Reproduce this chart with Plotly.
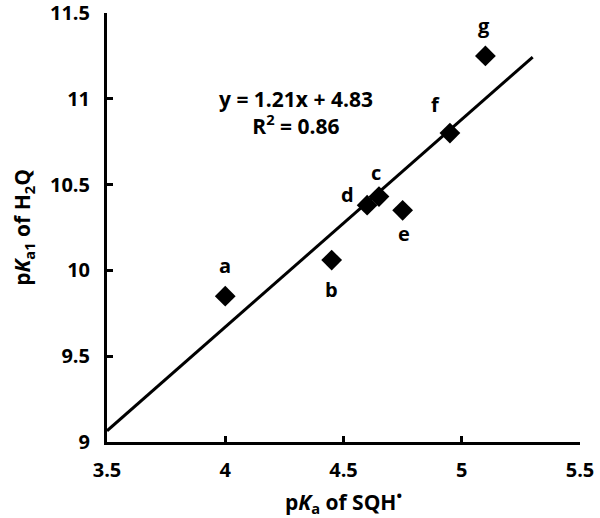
import plotly.graph_objects as go

# pKa of SQH* vs pKa1 of H2Q
labels = ['a', 'b', 'c', 'd', 'e', 'f', 'g']
pka_sqh = [4.0, 4.45, 4.65, 4.6, 4.75, 4.95, 5.1]
pka1_h2q = [9.85, 10.06, 10.43, 10.38, 10.35, 10.8, 11.25]
# label offsets from each point, in pixels
label_dx = [0, 0, -3, -20, 1, -14, -1]
label_dy = [31, -29, 24, 11, -23, 29, 30]

# linear fit line y = 1.21x + 4.83
slope = 1.21
intercept = 4.83
fit_x = [3.5, 5.3]
fit_y = [slope * x + intercept for x in fit_x]

FONT = 'Open Sans'

fig = go.Figure()
fig.add_trace(go.Scatter(
    x=fit_x, y=fit_y, mode='lines',
    line=dict(color='black', width=3),
    hoverinfo='skip',
))
fig.add_trace(go.Scatter(
    x=pka_sqh, y=pka1_h2q,
    mode='markers',
    marker=dict(symbol='diamond', size=16, color='black'),
))

for lab, x, y, dx, dy in zip(labels, pka_sqh, pka1_h2q, label_dx, label_dy):
    fig.add_annotation(
        x=x, y=y, xref='x', yref='y', text='<b>%s</b>' % lab,
        showarrow=False, xshift=dx, yshift=dy,
        font=dict(family=FONT, size=20, color='black'),
    )

fig.add_annotation(
    x=4.3, y=10.92, xref='x', yref='y',
    text='<b>y = 1.21x + 4.83<br>R<sup>2</sup> = 0.86</b>',
    showarrow=False, align='center',
    font=dict(family=FONT, size=21, color='black'),
)

axis_common = dict(
    showgrid=False, zeroline=False, automargin=False,
    showline=True, linecolor='black', linewidth=3,
    ticks='inside', ticklen=6, tickwidth=3, tickcolor='black',
    tickfont=dict(family=FONT, size=20, color='black', weight='bold'),
    ticklabeloverflow='allow',
    mirror=False,
)

fig.update_layout(
    width=600, height=518,
    margin=dict(l=107, r=20, t=13, b=76),
    plot_bgcolor='white', paper_bgcolor='white',
    showlegend=False,
    xaxis=dict(
        range=[3.5, 5.5], dtick=0.5, tick0=3.5,
        ticklabelstandoff=8,
        title=dict(text='<b>p<i>K</i><sub>a</sub> of SQH<sup>•</sup></b>',
                   font=dict(family=FONT, size=21, color='black'),
                   standoff=14),
        **axis_common,
    ),
    yaxis=dict(
        range=[9, 11.5], dtick=0.5, tick0=9,
        ticklabelstandoff=10,
        title=dict(text='<b>p<i>K</i><sub>a1</sub> of H<sub>2</sub>Q</b>',
                   font=dict(family=FONT, size=21, color='black'),
                   standoff=14),
        **axis_common,
    ),
)

fig.write_html('out.html', config={'displayModeBar': False},
               post_script="document.body.style.margin='0';")
